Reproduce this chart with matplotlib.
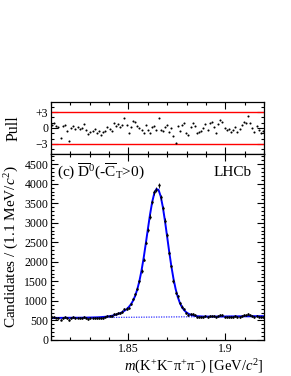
import numpy as np
import matplotlib
matplotlib.use("Agg")
import matplotlib.pyplot as plt
from matplotlib.ticker import MultipleLocator, FixedLocator, FixedFormatter

plt.rcParams['font.family'] = ['Liberation Serif', 'DejaVu Serif']
plt.rcParams['mathtext.fontset'] = 'custom'
plt.rcParams['mathtext.rm'] = 'Liberation Serif'
plt.rcParams['mathtext.it'] = 'Liberation Serif:italic'
plt.rcParams['mathtext.bf'] = 'Liberation Serif:bold'

# bin range (GeV/c^2), 100 bins of 1.1 MeV
x_lo, x_hi, n_bins = 1.81, 1.92, 100

# observed candidates per bin
data_counts = [
    577, 586, 575, 571, 524, 574, 583, 553, 512, 569,
    580, 564, 575, 568, 571, 590, 565, 548, 557, 564,
    572, 558, 568, 555, 571, 582, 607, 606, 608, 657,
    656, 687, 695, 728, 803, 806, 816, 918, 1044, 1168,
    1308, 1507, 1765, 2059, 2495, 2825, 3157, 3535, 3780, 3841,
    3965, 3656, 3375, 3057, 2684, 2224, 1885, 1510, 1208, 1117,
    936, 856, 787, 686, 639, 654, 653, 628, 586, 586,
    592, 600, 617, 591, 621, 625, 605, 576, 617, 641,
    630, 600, 593, 596, 586, 594, 610, 587, 599, 619,
    635, 628, 666, 629, 606, 591, 617, 600, 584, 598,
]

# total fit model at bin centres
fit_total = [
    565, 565, 566, 566, 567, 567, 568, 568, 569, 569,
    570, 570, 570, 571, 571, 572, 572, 574, 575, 576,
    578, 579, 582, 585, 590, 594, 602, 609, 620, 632,
    648, 666, 688, 715, 748, 789, 842, 911, 1003, 1128,
    1294, 1507, 1778, 2100, 2465, 2846, 3214, 3529, 3757, 3865,
    3841, 3679, 3404, 3050, 2655, 2257, 1888, 1569, 1307, 1104,
    951, 840, 763, 709, 673, 648, 631, 619, 611, 606,
    604, 601, 600, 600, 599, 599, 599, 600, 600, 601,
    601, 601, 602, 602, 603, 603, 604, 604, 605, 605,
    606, 606, 606, 607, 607, 608, 608, 609, 609, 610,
]

# background component: straight line end values
bkg_ends = [565, 610]

edges = np.linspace(x_lo, x_hi, n_bins + 1)
centers = 0.5 * (edges[:-1] + edges[1:])
data = np.array(data_counts, dtype=float)
fit = np.array(fit_total, dtype=float)
err = np.sqrt(data)
pull = (data - fit) / err

W, H = 291, 376
fig = plt.figure(figsize=(W / 100, H / 100), dpi=100)

left = 51 / W
width = 213 / W
ax_p = fig.add_axes([left, (H - 154) / H, width, 52 / H])
ax_m = fig.add_axes([left, (H - 340) / H, width, 186 / H])

def style(ax):
    ax.tick_params(which='both', direction='in', top=True, right=True,
                   labelsize=8.5, width=0.8, colors='black', pad=2)
    ax.tick_params(which='major', length=5)
    ax.tick_params(which='minor', length=2.5)
    for s in ax.spines.values():
        s.set_linewidth(0.9)

# pull panel
ax_p.set_xlim(x_lo, x_hi)
ax_p.set_ylim(-4.9, 4.9)
ax_p.axhline(3, color='red', lw=1.0)
ax_p.axhline(-3, color='red', lw=1.0)
ax_p.plot(centers, pull, 'o', color='black', ms=1.5, mew=0)
ax_p.yaxis.set_major_locator(FixedLocator([-3, 0, 3]))
ax_p.yaxis.set_major_formatter(FixedFormatter(['\u22123', '0', '+3']))
ax_p.yaxis.set_minor_locator(MultipleLocator(1))
ax_p.xaxis.set_major_locator(MultipleLocator(0.05))
ax_p.xaxis.set_minor_locator(MultipleLocator(0.01))
ax_p.tick_params(labelbottom=False)
style(ax_p)
ax_p.set_ylabel('Pull', fontsize=11.5)
ax_p.yaxis.set_label_coords(-0.14, 0.5)

# main panel
ax_m.set_xlim(x_lo, x_hi)
ax_m.set_ylim(0, 4760)
ax_m.plot([x_lo, x_hi], bkg_ends, ls=(0, (1, 1)), color='#3333ff', lw=0.9)
ax_m.plot(centers, fit, color='#0000ff', lw=1.4)
ax_m.errorbar(centers, data, yerr=err, fmt='o', color='black', ms=1.8,
              mew=0, elinewidth=0.6, capsize=0)
ax_m.yaxis.set_major_locator(MultipleLocator(500))
ax_m.yaxis.set_minor_locator(MultipleLocator(100))
ax_m.xaxis.set_major_locator(FixedLocator([1.85, 1.90]))
ax_m.xaxis.set_major_formatter(FixedFormatter(['1.85', '1.9']))
ax_m.xaxis.set_minor_locator(MultipleLocator(0.01))
style(ax_m)
ax_m.set_ylabel(r'Candidates / (1.1 MeV/$c^{2}$)', fontsize=11)
ax_m.yaxis.set_label_coords(-0.14, 0.5)
ax_m.set_xlabel(r'$m$(K$^{+}$K$^{-}$π$^{+}$π$^{-}$) [GeV/$c^{2}$]',
                fontsize=10.5, loc='right', labelpad=2)

ax_m.text(0.03, 0.96, r'(c) $\overline{\mathrm{D}}^{0}$(-$\overline{\mathrm{C}}_{\mathrm{T}}$>0)',
          transform=ax_m.transAxes, fontsize=11, va='top', ha='left')
ax_m.text(0.765, 0.935, 'LHCb', transform=ax_m.transAxes, fontsize=11,
          va='top', ha='left')

fig.savefig('out.png', dpi=100)
